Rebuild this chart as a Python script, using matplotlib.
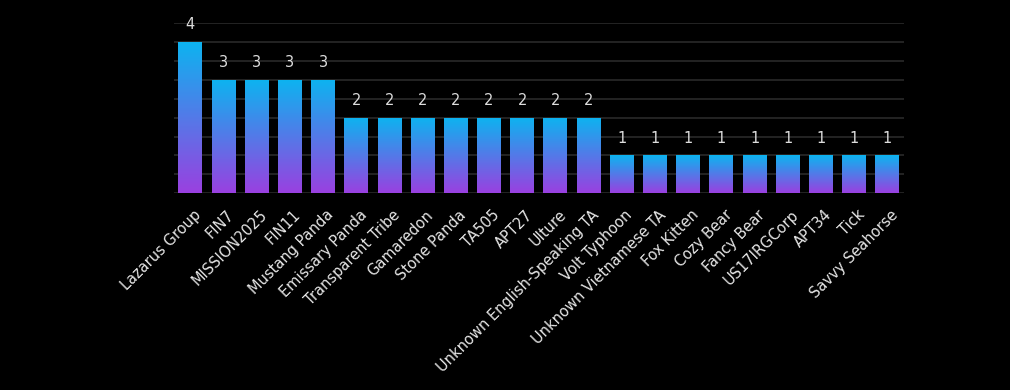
import numpy as np
import matplotlib
matplotlib.use("Agg")
import matplotlib.pyplot as plt
import matplotlib.transforms as mtransforms
from matplotlib.colors import LinearSegmentedColormap
from matplotlib.patches import Rectangle

categories = ["Lazarus Group", "FIN7", "MISSION2025", "FIN11", "Mustang Panda",
              "Emissary Panda", "Transparent Tribe", "Gamaredon", "Stone Panda",
              "TA505", "APT27", "Ulture", "Unknown English-Speaking TA",
              "Volt Typhoon", "Unknown Vietnamese TA", "Fox Kitten", "Cozy Bear",
              "Fancy Bear", "US17IRGCorp", "APT34", "Tick", "Savvy Seahorse"]
values = [4, 3, 3, 3, 3, 2, 2, 2, 2, 2, 2, 2, 2, 1, 1, 1, 1, 1, 1, 1, 1, 1]

plt.rcParams['font.family'] = ['DejaVu Sans']
plt.rcParams['image.composite_image'] = False

fig = plt.figure(figsize=(10.1, 3.9), dpi=100, facecolor='black')
ax = fig.add_axes([0.172, 0.504, 0.723, 0.438])
ax.set_facecolor('black')

cmap = LinearSegmentedColormap.from_list('g', ['#9a40e0', '#0cb4f0'])
grad = np.linspace(0, 1, 256).reshape(-1, 1)

x = np.arange(len(categories))
width = 0.72
bars = ax.bar(x, values, width=width, color='none', edgecolor='none', zorder=3)
for b, v in zip(bars, values):
    x0 = b.get_x()
    im = ax.imshow(grad, cmap=cmap, aspect='auto', origin='lower',
                   extent=[x0, x0 + width, 0, v], zorder=3, interpolation='bilinear')
    clip = Rectangle((x0, 0), width, v, transform=ax.transData)
    im.set_clip_path(clip)
    ax.text(b.get_x() + width / 2, v + 0.25, str(v), ha='center', va='bottom',
            color='#dddddd', fontsize=10.5, zorder=4)

ax.set_xlim(-0.5, len(categories) - 0.5)
ax.set_ylim(0, 4.5)
ax.set_yticks(np.arange(0, 4.51, 0.5))
ax.yaxis.grid(True, color='#2a2a2a', linewidth=1.2, zorder=0)
ax.set_axisbelow(True)
ax.tick_params(axis='y', left=False, labelleft=False)
ax.tick_params(axis='x', length=0, pad=10)
ax.set_xticks(x)
ax.set_xticklabels(categories, rotation=45, ha='right', rotation_mode='anchor',
                   color='#e6e6e6', fontsize=10.5)
offset = mtransforms.ScaledTranslation(3 / 100, 0, fig.dpi_scale_trans)
for lab in ax.get_xticklabels():
    lab.set_transform(lab.get_transform() + offset)
for s in ax.spines.values():
    s.set_visible(False)

fig.savefig('out.png', dpi=100, facecolor='black')
